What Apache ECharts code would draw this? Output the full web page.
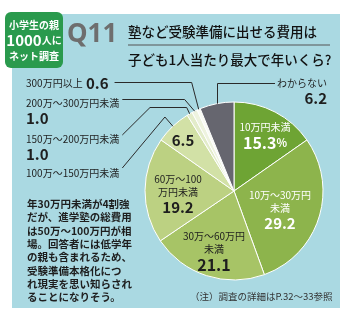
<!DOCTYPE html>
<html><head><meta charset="utf-8">
<script src="https://cdn.jsdelivr.net/npm/echarts@6/dist/echarts.min.js"></script>
<style>html,body{margin:0;padding:0;background:#fff}#c{width:350px;height:321px}</style>
</head><body><div id="c"></div>
<script>
// ---- data ----
const categories = ['10万円未満','10万〜30万円未満','30万〜60万円未満','60万〜100万円未満','100万〜150万円未満','150万〜200万円未満','200万〜300万円未満','300万円以上','わからない'];
const values = [15.3, 29.2, 21.1, 19.2, 6.5, 1.0, 1.0, 0.6, 6.2];
const insideNames = ['10万円未満','10万〜30万円\n未満','30万〜60万円\n未満','60万〜100\n万円未満'];
const titleLines = ['塾など受験準備に出せる費用は','子ども1人当たり最大で年いくら?'];
const badgeLines = ['小学生の親','1000','人に','ネット調査'];
const bodyLines = ['年30万円未満が4割強','だが、進学塾の総費用','は50万〜100万円が相','場。回答者には低学年','の親も含まれるため、','受験準備本格化につ','れ現実を思い知らされ','ることになりそう。'];
const noteText = '（注）調査の詳細はP.32〜33参照';

// ---- style ----
const FONT = '"Noto Sans CJK JP", "Noto Sans", sans-serif';
const colors = ['#6ea434','#8db44c','#a7c466','#bcd182','#d2e1a6','#e3ecca','#eef3df','#f9fbf3','#66666f'];
const panelColor = '#aad9e2';
const CX = 234, CY = 191, R = 89;
const lineColor = '#2a2a2a';

const rich = {
  n: {fontSize: 10, lineHeight: 13, fontFamily: FONT},
  v: {fontSize: 15, fontWeight: 'bold', lineHeight: 17, fontFamily: FONT},
  b: {fontSize: 16, fontWeight: 'bold', lineHeight: 18, fontFamily: FONT},
  p: {fontSize: 11, fontWeight: 'bold', lineHeight: 18, fontFamily: FONT}
};
function richFor(color){
  const o = {};
  for (const k in rich) o[k] = Object.assign({color: color}, rich[k]);
  return o;
}
const fmt = v => v.toFixed(1);

function labelA(i){
  if (i === 0) return {show:true, position:'inside', formatter:'{n|'+insideNames[0]+'}\n{b|'+fmt(values[0])+'}{p|%}', rich: richFor('#fff')};
  if (i === 1) return {show:true, position:'inside', formatter: insideNames[1].split('\n').map(s=>'{n|'+s+'}').join('\n')+'\n{v|'+fmt(values[1])+'}', rich: richFor('#fff')};
  if (i === 2 || i === 3) return {show:true, position:'inside', formatter: insideNames[i].split('\n').map(s=>'{n|'+s+'}').join('\n')+'\n{'+(i===2?'b':'v')+'|'+fmt(values[i])+'}', rich: richFor('#1e1e1e')};
  if (i === 4) return {show:true, position:'inside', formatter:'{v|'+fmt(values[4])+'}', rich: richFor('#1e1e1e')};
  if (i === 8) return {show:true, position:'outside', formatter:'{n|'+categories[8]+'}\n{v|'+fmt(values[8])+'}', rich: richFor('#1e1e1e')};
  return {show:false};
}
const insidePos = {0:[265,136], 1:[280,210], 2:[214,252], 3:[178,194], 4:[183,140]};

function labelB(i){
  if (i === 7) return {show:true, position:'outside', formatter:'{n|'+categories[7]+'} {v|'+fmt(values[7])+'}', rich: richFor('#1e1e1e')};
  if (i === 6 || i === 5) return {show:true, position:'outside', formatter:'{n|'+categories[i]+'}\n{v|'+fmt(values[i])+'}', rich: richFor('#1e1e1e')};
  if (i === 4) return {show:true, position:'outside', formatter:'{n|'+categories[4]+'}', rich: richFor('#1e1e1e')};
  return {show:false};
}
const LX = 26;
const leftLayout = {
  7: {y: 83, va: 'middle', end: 115},
  6: {y: 96.5, va: 'top', end: 122},
  5: {y: 133, va: 'top', end: 123},
  4: {y: 173, va: 'middle', end: 123}
};
const labelWidths = {};

const baseGraphic = [
  {type:'rect', z:-10, shape:{x:12, y:14, width:328, height:294}, style:{fill:panelColor}},
  {type:'rect', z:-5, shape:{x:5, y:12, width:58, height:56, r:6}, style:{fill:'#2a9a4d'}},
  {type:'rect', z:-5, shape:{x:128, y:44.5, width:202, height:1}, style:{fill:'#555'}}
];

const titles = [
  {left:34, top:17.5, textAlign:'center', padding:0,
   text:'{s|'+badgeLines[0]+'}\n{a|'+badgeLines[1]+'}{s2|'+badgeLines[2]+'}\n{s|'+badgeLines[3]+'}',
   textStyle:{rich:{
     s:{color:'#fff', fontSize:10, fontWeight:'bold', lineHeight:15, fontFamily:FONT},
     a:{color:'#fff', fontSize:15, fontWeight:'bold', lineHeight:16, fontFamily:FONT},
     s2:{color:'#fff', fontSize:10, fontWeight:'bold', lineHeight:16, fontFamily:FONT}}}},
  {left:67, top:18, padding:0, text:'Q11',
   textStyle:{color:'#6e6e6e', fontSize:26, fontWeight:'bold', lineHeight:34, fontFamily:'"Noto Sans", sans-serif'}},
  {left:128, top:18, padding:0, text: titleLines.join('\n'),
   textStyle:{color:'#111', fontSize:13.5, fontWeight:500, lineHeight:28, fontFamily:FONT}},
  {left:27, top:197.4, padding:0, text: bodyLines.join('\n'),
   textStyle:{color:'#1e1e1e', fontSize:10.5, fontWeight:'bold', lineHeight:13.3, fontFamily:FONT}},
  {left:190, top:289, padding:0, text: noteText,
   textStyle:{color:'#333', fontSize:9.5, fontWeight:'normal', lineHeight:14, fontFamily:FONT}}
];

function buildOption(lineEls){
  return {
    animation:false,
    backgroundColor:'#ffffff',
    title: titles,
    graphic: baseGraphic.concat(lineEls),
    series: [
      {
        type:'pie', center:[CX, CY], radius:R, startAngle:90, clockwise:true,
        avoidLabelOverlap:false,
        itemStyle:{borderColor:'#ffffff', borderWidth:1},
        labelLine:{show:false},
        data: categories.map((n,i)=>({name:n, value:values[i], itemStyle:{color:colors[i]}, label:labelA(i)})),
        labelLayout: function(p){
          const i = p.dataIndex;
          if (insidePos[i]) return {x: insidePos[i][0], y: insidePos[i][1], align:'center', verticalAlign:'middle'};
          if (i === 8) return {x: 327, y: 77, align:'right', verticalAlign:'top'};
          return {};
        }
      },
      {
        type:'pie', center:[CX, CY], radius:R, startAngle:90, clockwise:true,
        avoidLabelOverlap:false, silent:true,
        itemStyle:{color:'rgba(255,255,255,0)', borderWidth:0},
        labelLine:{show:false},
        data: categories.map((n,i)=>({name:n, value:values[i], label:labelB(i)})),
        labelLayout: function(p){
          const i = p.dataIndex;
          const L = leftLayout[i];
          if (!L) return {};
          if (p.labelRect && isFinite(p.labelRect.width)) labelWidths[i] = p.labelRect.width;
          return {x: LX, y: L.y, align:'left', verticalAlign: L.va};
        }
      }
    ]
  };
}

const chart = echarts.init(document.getElementById('c'));
chart.setOption(buildOption([]));

// anchor on the slice's outer arc, taken from the pie layout of the library
function sliceAnchor(i){
  try {
    const lay = chart.getModel().getSeriesByIndex(0).getData().getItemLayout(i);
    if (lay && isFinite(lay.startAngle) && isFinite(lay.endAngle)) {
      const m = (lay.startAngle + lay.endAngle) / 2;
      return [lay.cx + lay.r * Math.cos(m), lay.cy + lay.r * Math.sin(m)];
    }
  } catch (e) {}
  const total = values.reduce((a, b) => a + b, 0);
  let acc = 0; for (let k = 0; k < i; k++) acc += values[k];
  const mid = (90 - (acc + values[i] / 2) / total * 360) * Math.PI / 180;
  return [CX + R * Math.cos(mid), CY - R * Math.sin(mid)];
}
function leftEnd(i){
  return labelWidths[i] != null ? LX + labelWidths[i] + (i === 7 ? 6 : 3) : leftLayout[i].end;
}
const paths = [];
(function(){
  let p0 = sliceAnchor(7);
  paths.push([p0, [p0[0]-7, 82.5], [leftEnd(7), 82.5]]);
  p0 = sliceAnchor(6);
  paths.push([p0, [p0[0]-10, 99.5], [leftEnd(6), 99.5]]);
  p0 = sliceAnchor(5);
  paths.push([p0, [p0[0]-3, 107.5], [150, 107.5], [leftEnd(5), 135]]);
  p0 = sliceAnchor(4);
  paths.push([p0, [p0[0]-8, 117], [leftEnd(4), 168]]);
  p0 = sliceAnchor(8);
  const vx = Math.round(p0[0]) + 0.5;
  paths.push([[vx, p0[1]], [vx, 83.5], [275, 83.5]]);
})();
const lineEls = paths.map(pts => ({
  type:'polyline', z:20, silent:true,
  shape:{points: pts},
  style:{stroke: lineColor, lineWidth: 1}
}));
chart.setOption(buildOption(lineEls), {notMerge: true});
</script>
</body></html>
